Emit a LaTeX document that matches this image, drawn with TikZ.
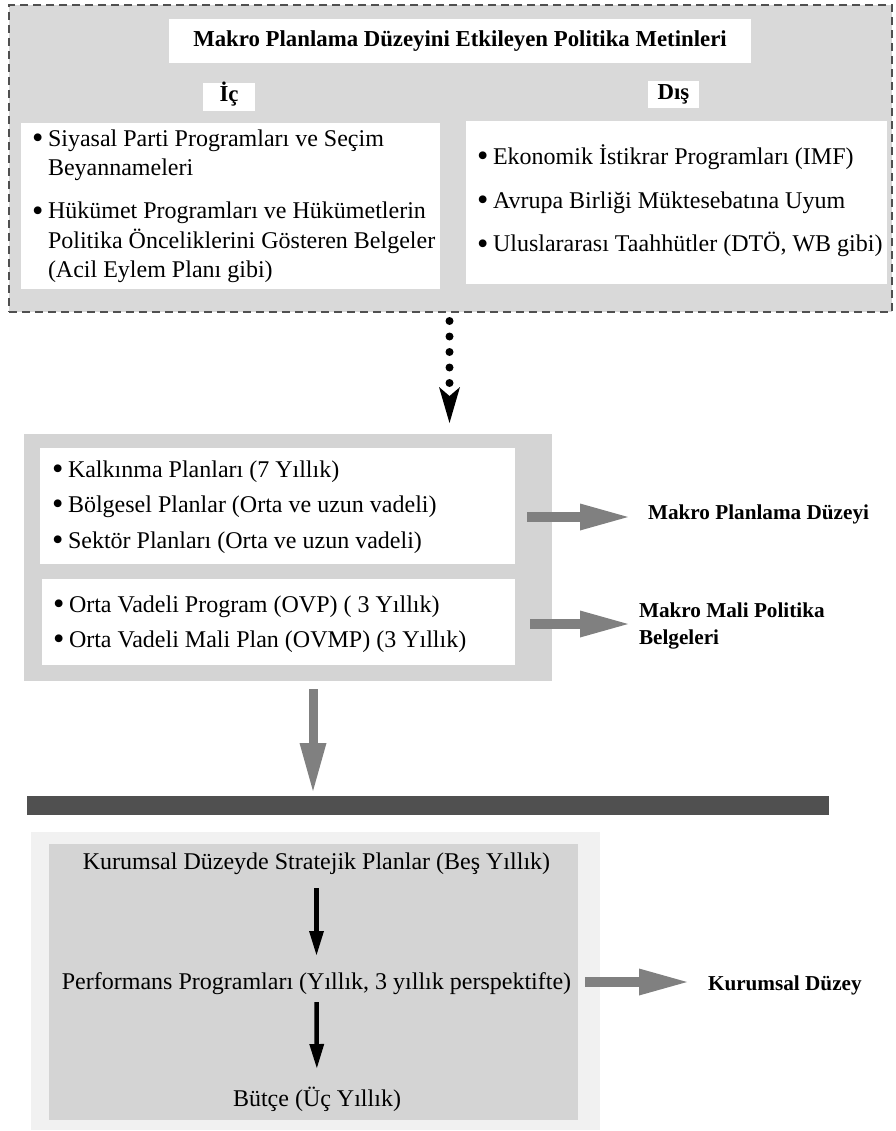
\documentclass[tikz,border=0pt]{standalone}
\usepackage{fontspec}
\usepackage{graphicx}
\setmainfont{Liberation Serif}
\usetikzlibrary{arrows.meta,calc}
\definecolor{topgray}{HTML}{D9D9D9}
\definecolor{midgray}{HTML}{D4D4D4}
\definecolor{lightbg}{HTML}{F1F1F1}
\definecolor{darkbar}{HTML}{505050}
\definecolor{dashgray}{HTML}{505050}
\definecolor{arrowgray}{HTML}{808080}
\newcommand{\mybul}{\makebox[8.4pt][c]{\raisebox{-2pt}{\scalebox{1.35}{•}}}}
\begin{document}
\begin{tikzpicture}[x=1pt,y=-1pt,
  box/.style={inner sep=0pt,outer sep=0pt,anchor=north west,draw=none},
  txt/.style={inner sep=0pt,outer sep=0pt,anchor=base west,font=\fontsize{24}{29}\selectfont},
  ctxt/.style={inner sep=0pt,outer sep=0pt,anchor=base,font=\fontsize{24}{29}\selectfont},
  ttl/.style={inner sep=0pt,outer sep=0pt,anchor=base,font=\fontsize{22.8}{27}\selectfont\bfseries},
  lbl/.style={inner sep=0pt,outer sep=0pt,anchor=base west,font=\fontsize{21.2}{27}\selectfont\bfseries},
  grayarrow/.style={draw=arrowgray,line width=10pt,-{Triangle[length=48pt,width=27pt,line width=0pt,color=arrowgray]}},
  blackarrow/.style={draw=black,line width=4.5pt,-{Triangle[length=24pt,width=15pt,line width=0pt]}},
  dotarrow/.style={draw=black,line width=8pt,dash pattern=on 0pt off 15.5pt,line cap=round,-{Stealth[length=36pt,width=21pt,inset=9pt,line width=0pt]}},
]
\useasboundingbox (0,0) rectangle (895,1131);

% top dashed region
\node[box,fill=topgray,draw=dashgray,line width=2pt,dash pattern=on 8pt off 5pt,minimum width=883pt,minimum height=307pt] (top) at (9,5) {};
\node[box,fill=white,minimum width=582pt,minimum height=44pt] (titlebox) at (169,19) {};
\node[ttl] (title) at (460,47) {Makro Planlama Düzeyini Etkileyen Politika Metinleri};
\node[box,fill=white,minimum width=52pt,minimum height=28pt] (icbox) at (203,83) {};
\node[ttl] (ic) at (229,102) {İç};
\node[box,fill=white,minimum width=51pt,minimum height=27pt] (disbox) at (648,81) {};
\node[ttl] (dis) at (673.5,100) {Dış};

\node[box,fill=white,minimum width=419pt,minimum height=166pt] (lw) at (21,123) {};
\node[txt] (l1) at (33.6,147) {\mybul{} Siyasal Parti Programları ve Seçim};
\node[txt] (l2) at (48,176) {Beyannameleri};
\node[txt] (l3) at (33.6,219) {\mybul{} Hükümet Programları ve Hükümetlerin};
\node[txt] (l4) at (48,249) {Politika Önceliklerini Gösteren Belgeler};
\node[txt] (l5) at (48,278) {(Acil Eylem Planı gibi)};

\node[box,fill=white,minimum width=421pt,minimum height=163pt] (rw) at (466,121) {};
\node[txt] (r1) at (478.6,165) {\mybul{} Ekonomik İstikrar Programları (IMF)};
\node[txt] (r2) at (478.6,209) {\mybul{} Avrupa Birliği Müktesebatına Uyum};
\node[txt] (r3) at (478.6,252) {\mybul{} Uluslararası Taahhütler (DTÖ, WB gibi)};

% middle region
\node[box,fill=midgray,minimum width=528pt,minimum height=247pt] (mid) at (24,434) {};
\node[box,fill=white,minimum width=475pt,minimum height=116pt] (w1) at (40,448) {};
\node[txt] (m1) at (53.6,477) {\mybul{} Kalkınma Planları (7 Yıllık)};
\node[txt] (m2) at (53.6,512) {\mybul{} Bölgesel Planlar (Orta ve uzun vadeli)};
\node[txt] (m3) at (53.6,548) {\mybul{} Sektör Planları (Orta ve uzun vadeli)};
\node[box,fill=white,minimum width=473pt,minimum height=86pt] (w2) at (42,579) {};
\node[txt] (m4) at (54.6,612) {\mybul{} Orta Vadeli Program (OVP) ( 3 Yıllık)};
\node[txt] (m5) at (54.6,647) {\mybul{} Orta Vadeli Mali Plan (OVMP) (3 Yıllık)};

\node[lbl] (lab1) at (648,519) {Makro Planlama Düzeyi};
\node[lbl] (lab2a) at (639,617) {Makro Mali Politika};
\node[lbl] (lab2b) at (639,644) {Belgeleri};

% bar
\node[box,fill=darkbar,minimum width=802pt,minimum height=19pt] (bar) at (27,796) {};

% bottom region
\node[box,fill=lightbg,minimum width=569pt,minimum height=298pt] (bo) at (31,832) {};
\node[box,fill=midgray,minimum width=529pt,minimum height=276pt] (bi) at (49,844) {};
\node[ctxt] (k1) at (316.5,869) {Kurumsal Düzeyde Stratejik Planlar (Beş Yıllık)};
\node[ctxt] (k2) at (316.5,989) {Performans Programları (Yıllık, 3 yıllık perspektifte)};
\node[ctxt] (k3) at (317,1106) {Bütçe (Üç Yıllık)};
\node[lbl] (lab3) at (708,990) {Kurumsal Düzey};

% connectors
\draw[dotarrow,shorten <=9pt,shorten >=11pt] ($(top.south)+(-1,0)$) -- ($(top.south |- mid.north)+(-1,0)$);
\draw[grayarrow] ($(mid.east |- lab1.base)+(-25,-2)$) -- ($(lab1.base west)+(-20,-2)$);
\draw[grayarrow] ($(mid.east |- lab2a.base)+(-22,7)$) -- ($(lab2a.base west)+(-11,7)$);
\draw[grayarrow,line width=9pt] ($(mid.south)+(25,8)$) -- ($(mid.south |- bar.north)+(25,-5)$);
\draw[blackarrow,shorten <=19pt,shorten >=34pt] (k1.base) -- (k2.base);
\draw[blackarrow,shorten <=13pt,shorten >=38pt] (k2.base) -- (k3.base);
\draw[grayarrow] ($(bo.east |- lab3.base)+(-15,-8)$) -- ($(lab3.base west)+(-21,-8)$);
\end{tikzpicture}
\end{document}
